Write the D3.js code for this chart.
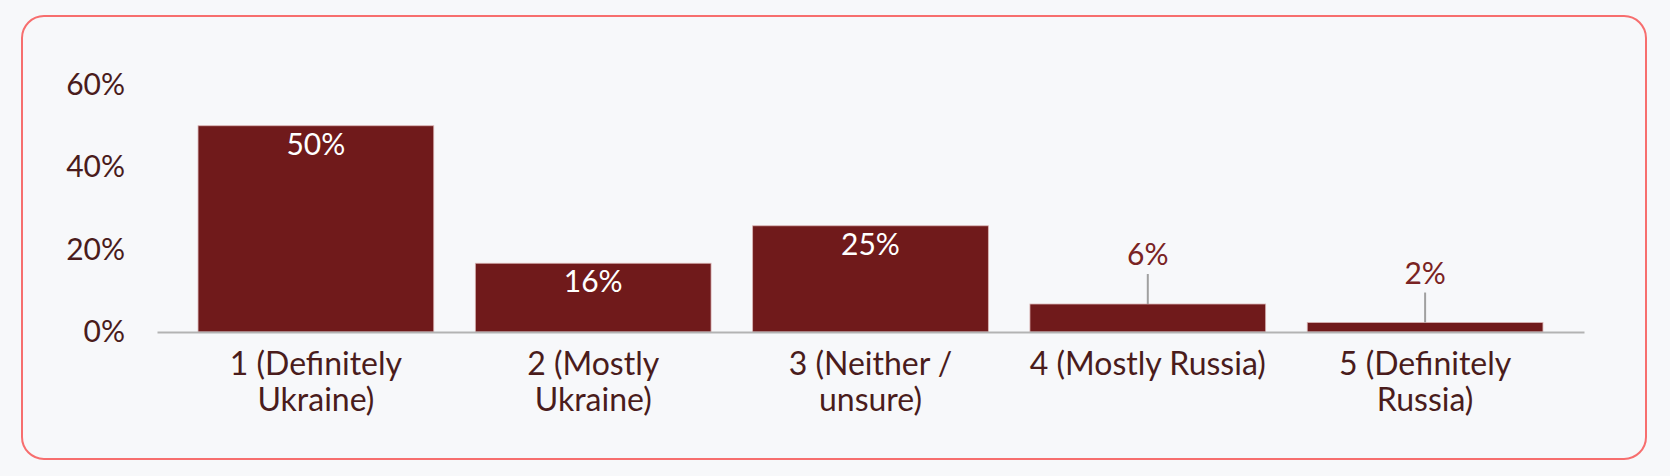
<!DOCTYPE html>
<html>
<head>
<meta charset="utf-8">
<script src="https://cdn.jsdelivr.net/npm/d3@7"></script>
<style>
  html, body { margin: 0; padding: 0; background: #f7f8fa; }
  svg { display: block; }
  text { font-family: Lato, "Open Sans", sans-serif; }
</style>
</head>
<body>
<svg id="chart" width="1670" height="476"></svg>
<script>
const categories = [
  ["1 (Definitely", "Ukraine)"],
  ["2 (Mostly", "Ukraine)"],
  ["3 (Neither /", "unsure)"],
  ["4 (Mostly Russia)"],
  ["5 (Definitely", "Russia)"]
];
const values = [50.1, 16.7, 25.8, 6.8, 2.3];
const valueLabels = ["50%", "16%", "25%", "6%", "2%"];
const yTicks = [0, 20, 40, 60];

const svg = d3.select("#chart");

// card
svg.append("rect")
  .attr("x", 22).attr("y", 16)
  .attr("width", 1624).attr("height", 443)
  .attr("rx", 22).attr("ry", 22)
  .attr("fill", "#f7f8fa")
  .attr("stroke", "#f76e6e")
  .attr("stroke-width", 2);

const x = d3.scaleBand()
  .domain(d3.range(categories.length))
  .range([157, 1584])
  .paddingInner(0.15)
  .paddingOuter(0.148);

const y = d3.scaleLinear().domain([0, 60]).range([332, 85]);

// y axis labels
const yAxis = d3.axisLeft(y).tickValues(yTicks).tickFormat(d => d + "%").tickSize(0).tickPadding(0);
const gy = svg.append("g").attr("transform", "translate(125,0)").call(yAxis);
gy.select(".domain").remove();
gy.selectAll("text")
  .attr("font-size", 30)
  .attr("font-family", "Lato, sans-serif")
  .attr("fill", "#4a1c1c");

// bars
const bars = svg.append("g");
bars.selectAll("rect")
  .data(values)
  .join("rect")
  .attr("x", (d, i) => x(i))
  .attr("y", d => y(d))
  .attr("width", x.bandwidth())
  .attr("height", d => y(0) - y(d))
  .attr("fill", "#701a1b")
  .attr("stroke", "#d9b3b3")
  .attr("stroke-width", 0.8);

// baseline axis
const xAxis = d3.axisBottom(x).tickSize(0).tickFormat("");
const gx = svg.append("g").attr("transform", `translate(0,${y(0)})`).call(xAxis);
gx.select(".domain").attr("stroke", "#b3b3b3").attr("stroke-width", 2.2);

// category labels
const cat = svg.append("g");
categories.forEach((lines, i) => {
  const t = cat.append("text")
    .attr("x", x(i) + x.bandwidth() / 2)
    .attr("y", 375)
    .attr("text-anchor", "middle")
    .attr("font-size", 32)
    .attr("fill", "#4a1c1c");
  lines.forEach((ln, j) => {
    t.append("tspan")
      .attr("x", x(i) + x.bandwidth() / 2)
      .attr("dy", j === 0 ? 0 : 36)
      .text(ln);
  });
});

// value labels
const inside = d => (y(0) - y(d)) > 40;
const lab = svg.append("g");
values.forEach((v, i) => {
  const cx = x(i) + x.bandwidth() / 2;
  if (inside(v)) {
    lab.append("text")
      .attr("x", cx).attr("y", y(v) + 29)
      .attr("text-anchor", "middle")
      .attr("font-size", 30)
      .attr("fill", "#ffffff")
      .text(valueLabels[i]);
  } else {
    lab.append("line")
      .attr("x1", cx).attr("x2", cx)
      .attr("y1", y(v)).attr("y2", y(v) - 30)
      .attr("stroke", "#a0a0a0").attr("stroke-width", 2);
    lab.append("text")
      .attr("x", cx).attr("y", y(v) - 39)
      .attr("text-anchor", "middle")
      .attr("font-size", 30)
      .attr("fill", "#7a2323")
      .text(valueLabels[i]);
  }
});
</script>
</body>
</html>
